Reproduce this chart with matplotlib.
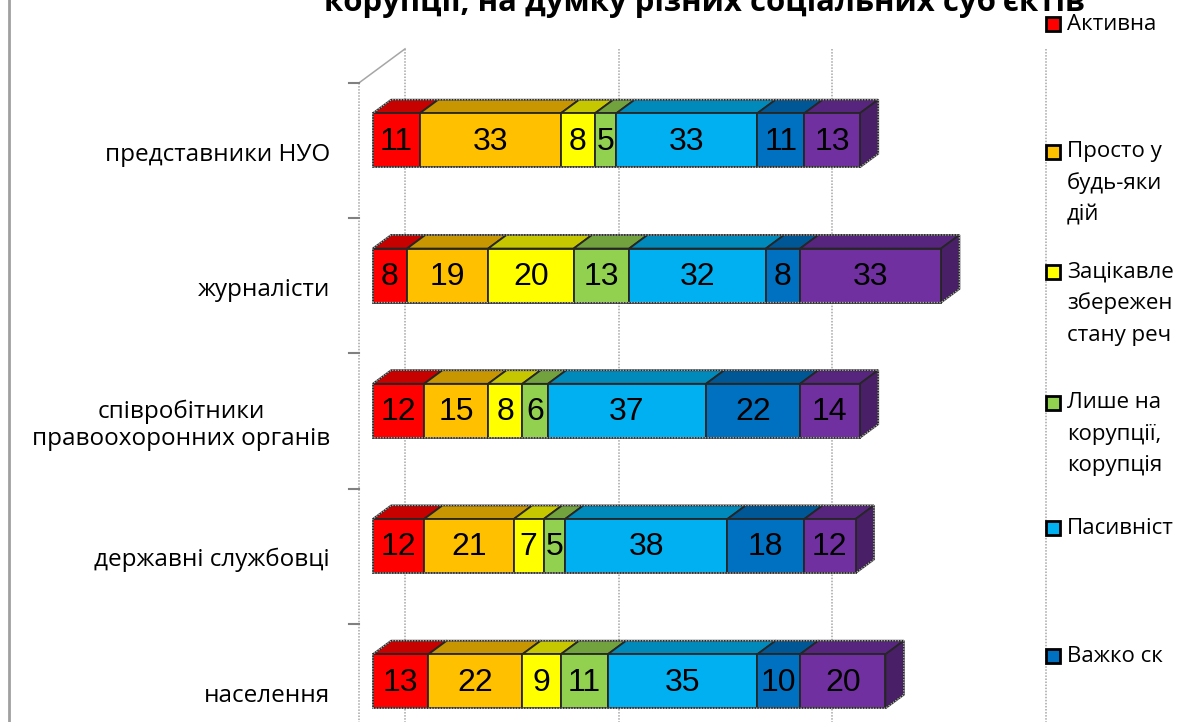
import numpy as np
import matplotlib
matplotlib.use("Agg")
import matplotlib.pyplot as plt
from matplotlib.patches import Polygon, Rectangle
from matplotlib.colors import to_rgb

# === DATEN ===
categories = ['представники НУО', 'журналісти',
              'співробітники\nправоохоронних органів',
              'державні службовці', 'населення']

s_active = [11, 8, 12, 12, 13]
s_abstain = [33, 19, 15, 21, 22]
s_status_quo = [8, 20, 8, 7, 9]
s_words_only = [5, 13, 6, 5, 11]
s_passive = [33, 32, 37, 38, 35]
s_hard_to_say = [11, 8, 22, 18, 10]
s_other = [13, 33, 14, 12, 20]

series = [s_active, s_abstain, s_status_quo, s_words_only,
          s_passive, s_hard_to_say, s_other]

# Legende ist im Original rechts abgeschnitten - nur der sichtbare Teil
legend_lines = [
    ['Активна'],
    ['Просто у', 'будь-яки', 'дій'],
    ['Зацікавле', 'збережен', 'стану реч'],
    ['Лише на', 'корупції,', 'корупція'],
    ['Пасивніст'],
    ['Важко ск'],
]
legend_y_px = [24, 152, 272, 403, 528, 656]

title = 'корупції, на думку різних соціальних суб’єктів'

colors = ['#FF0000', '#FFC000', '#FFFF00', '#92D050',
          '#00B0F0', '#0070C0', '#7030A0']

# === GEOMETRIE (Pixel -> Daten) ===
W, H = 1194, 722
px_per_unit = 4.272       # px pro Prozentpunkt
x0_px = 359               # x=0 in der vorderen Ebene
row_px = 135.25           # Abstand der Kategorien
y0_px = 150.5             # Mitte Kategorie 0 (vordere Ebene)

wall_dx = 46 / px_per_unit
wall_dy = -34 / row_px
front_dx, front_dy = 0.3 * wall_dx, 0.3 * wall_dy
bar_dx, bar_dy = 0.4 * wall_dx, 0.4 * wall_dy
bar_h = 54 / row_px

fig = plt.figure(figsize=(W / 100, H / 100), dpi=100)
ax = fig.add_axes([0, 0, 1, 1])
ax.set_xlim(-x0_px / px_per_unit, (W - x0_px) / px_per_unit)
ax.set_ylim((H - y0_px) / row_px, -y0_px / row_px)
ax.axis('off')

n = len(categories)

# === Wände und Gitterlinien ===
grid_col = '#A6A6A6'
for v in [0, 50, 100, 150]:
    ax.plot([v + wall_dx] * 2, [-0.5 + wall_dy, n - 0.5 + wall_dy],
            color=grid_col, lw=1.1, ls=(0, (1, 1)), zorder=1)
ax.plot([0, 0], [-0.5, n], color=grid_col, lw=1.1, ls=(0, (1, 1)), zorder=1)
ax.plot([0, wall_dx], [-0.5, -0.5 + wall_dy], color=grid_col, lw=1.1, zorder=1)
for k in range(n + 1):
    ax.plot([-2.3, 0], [k - 0.5, k - 0.5], color='#808080', lw=1.5, zorder=1)

# === 3D-Balken ===
for k in range(n):
    left = 0
    ytop = k + front_dy - bar_h / 2
    ybot = k + front_dy + bar_h / 2
    vals = [s[k] for s in series]
    total = sum(vals)
    for i, v in enumerate(vals):
        x1 = front_dx + left
        x2 = x1 + v
        c = np.array(to_rgb(colors[i]))
        ax.add_patch(Polygon([(x1, ytop), (x2, ytop), (x2 + bar_dx, ytop + bar_dy),
                              (x1 + bar_dx, ytop + bar_dy)], closed=True,
                             facecolor=c * 0.78, edgecolor='#262626', lw=1.3, zorder=3))
        ax.add_patch(Rectangle((x1, ytop), v, bar_h, facecolor=c,
                               edgecolor='#262626', lw=1.3, zorder=4))
        if i == len(vals) - 1:
            ax.add_patch(Polygon([(x2, ytop), (x2 + bar_dx, ytop + bar_dy),
                                  (x2 + bar_dx, ybot + bar_dy), (x2, ybot)], closed=True,
                                 facecolor=c * 0.65, edgecolor='#262626', lw=1.3, zorder=3))
        ax.text(x1 + v / 2, k + front_dy + 0.01, str(v), ha='center', va='center',
                fontsize=23, family=['Liberation Sans Narrow', 'Liberation Sans'],
                color='black', zorder=5)
        left += v
    # gepunktete Umrisslinie
    xs = front_dx
    xe = front_dx + total
    ax.plot([xs, xs, xs + bar_dx, xe + bar_dx, xe + bar_dx, xe, xs],
            [ybot, ytop, ytop + bar_dy, ytop + bar_dy, ybot + bar_dy, ybot, ybot],
            color='#B0B0B0', lw=1.0, ls=(0, (1, 1)), zorder=6)

# === Kategorienbeschriftung ===
for k, lab in enumerate(categories):
    ax.text(-29 / px_per_unit, k + 0.03, lab, ha='right', va='center',
            multialignment='center', fontsize=17.5, family='Open Sans',
            linespacing=1.15, color='black')

# === Legende (rechts, abgeschnitten) ===
for i, lines in enumerate(legend_lines):
    yc = legend_y_px[i]
    fig.add_artist(Rectangle((1046 / W, 1 - (yc + 7) / H), 14 / W, 14 / H,
                             transform=fig.transFigure, facecolor=colors[i],
                             edgecolor='black', lw=2))
    for j, line in enumerate(lines):
        fig.text(1067 / W, 1 - (yc + j * 31.5) / H, line, ha='left', va='center',
                 fontsize=16, family='Open Sans', color='black')

# === Titel (oben abgeschnitten wie im Original) ===
t = fig.text(704 / W, 1 - 11 / H, title, ha='center', va='baseline',
             fontsize=22, fontweight='bold', family='Open Sans')
fig.canvas.draw()
w_now = t.get_window_extent().width
t.set_fontsize(22 * 762 / w_now)

# linker Rahmen
fig.add_artist(plt.Line2D([9 / W, 9 / W], [0, 1], transform=fig.transFigure,
                          color='#A0A0A0', lw=2))

plt.savefig('out.png', dpi=100)
